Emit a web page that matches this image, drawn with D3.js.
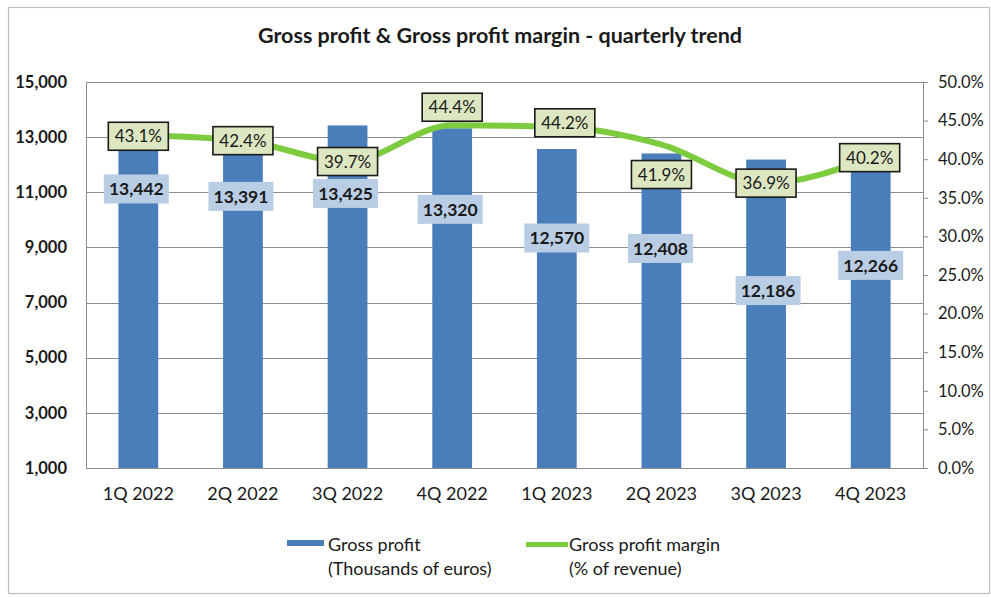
<!DOCTYPE html>
<html><head><meta charset="utf-8">
<script src="https://cdn.jsdelivr.net/npm/d3@7"></script>
<style>
body{margin:0;background:#fff;}
svg{display:block;font-family:Lato,"Open Sans",sans-serif;}
</style>
</head><body><svg id="chart" width="991" height="597"></svg>
<script>
// ---- data ----
const quarters = ["1Q 2022","2Q 2022","3Q 2022","4Q 2022","1Q 2023","2Q 2023","3Q 2023","4Q 2023"];
const grossProfit = [13442,13391,13425,13320,12570,12408,12186,12266];
const grossMargin = [43.1,42.4,39.7,44.4,44.2,41.9,36.9,40.2];
const leftTicks = [1000,3000,5000,7000,9000,11000,13000,15000];
const rightTicks = [0,5,10,15,20,25,30,35,40,45,50];
const titleText = "Gross profit & Gross profit margin - quarterly trend";
const legendProfit = ["Gross profit","(Thousands of euros)"];
const legendMargin = ["Gross profit margin","(% of revenue)"];

// ---- label placement (manual, pixel offsets as in the original) ----
const marginLabelDx = [0,0,0,0,8,0,0,-1];
const marginLabelDy = [1,0,0,-18,-4,30,0,0];
const profitLabelDx = [-2,-2,-2,-2,0,-1,2,0];
const profitLabelDy = [64,70,68,81,89,95,131,108];

const svg = d3.select("#chart");
const P = {left:86, right:923, top:82, bottom:468};
const FONT = "Lato,'Open Sans',sans-serif";

const x = d3.scaleBand().domain(quarters).range([P.left,P.right]).paddingInner(0.62).paddingOuter(0.31);
const yL = d3.scaleLinear().domain([1000,15000]).range([P.bottom,P.top]);
const yR = d3.scaleLinear().domain([0,50]).range([P.bottom,P.top]);
const cx = q => x(q) + x.bandwidth()/2;

// outer frame
svg.append("rect").attr("x",8.5).attr("y",7.5).attr("width",981).attr("height",586)
  .attr("fill","#fff").attr("stroke","#bfbfbf").attr("stroke-width",1.2);

// title
svg.append("text").attr("x",500).attr("y",43).attr("text-anchor","middle")
  .attr("font-size",21.5).attr("font-weight","bold").attr("fill","#1a1a1a").text(titleText);

// gridlines
svg.append("g").selectAll("line").data(leftTicks).join("line")
  .attr("x1",P.left).attr("x2",P.right)
  .attr("y1",d=>Math.round(yL(d))+0.5).attr("y2",d=>Math.round(yL(d))+0.5)
  .attr("stroke","#8c8c8c").attr("stroke-width",1);
svg.append("line").attr("x1",P.left+0.5).attr("x2",P.left+0.5).attr("y1",P.top).attr("y2",P.bottom)
  .attr("stroke","#8c8c8c");

// left axis
const gL = svg.append("g").attr("transform",`translate(${P.left},0)`)
  .call(d3.axisLeft(yL).tickValues(leftTicks).tickSize(0).tickPadding(19).tickFormat(d3.format(",")));
gL.select(".domain").remove();
gL.selectAll("text").attr("font-size",16.5).attr("font-weight","bold").attr("fill","#1a1a1a")
  .attr("font-family",FONT);

// right axis
const gR = svg.append("g").attr("transform",`translate(${P.right},0)`)
  .call(d3.axisRight(yR).tickValues(rightTicks).tickSize(5).tickSizeOuter(0).tickPadding(10)
    .tickFormat(d=>d.toFixed(1)+"%"));
gR.select(".domain").attr("stroke","#8c8c8c");
gR.selectAll(".tick line").attr("stroke","#8c8c8c");
gR.selectAll("text").attr("font-size",16.5).attr("fill","#1a1a1a").attr("font-family",FONT);

// bottom axis
const gB = svg.append("g").attr("transform",`translate(0,${P.bottom})`)
  .call(d3.axisBottom(x).tickSize(0).tickPadding(19));
gB.select(".domain").remove();
gB.selectAll("text").attr("font-size",18).attr("fill","#1a1a1a").attr("font-family",FONT);

// bars
svg.append("g").selectAll("rect").data(quarters).join("rect")
  .attr("x",d=>x(d)).attr("width",x.bandwidth())
  .attr("y",(d,i)=>yL(grossProfit[i])).attr("height",(d,i)=>yL(1000)-yL(grossProfit[i]))
  .attr("fill","#4a7ebb");

// profit labels
const fmt = d3.format(",");
const pl = svg.append("g").selectAll("g").data(quarters).join("g")
  .attr("transform",(d,i)=>`translate(${cx(d)+profitLabelDx[i]},${yL(grossProfit[i])+profitLabelDy[i]})`);
pl.append("rect").attr("x",-32.5).attr("y",-14.5).attr("width",65).attr("height",29).attr("fill","#b9cde5");
pl.append("text").attr("text-anchor","middle").attr("dy","0.36em").attr("font-size",17.5)
  .attr("font-weight","bold").attr("fill","#1a1a1a").text((d,i)=>fmt(grossProfit[i]));

// margin line
const line = d3.line().x(d=>cx(d)).y((d,i)=>yR(grossMargin[i])).curve(d3.curveMonotoneX);
svg.append("path").datum(quarters).attr("d",line).attr("fill","none")
  .attr("stroke","#7dcb3f").attr("stroke-width",6).attr("stroke-linejoin","round");

// margin labels
const ml = svg.append("g").selectAll("g").data(quarters).join("g")
  .attr("transform",(d,i)=>`translate(${cx(d)+marginLabelDx[i]},${yR(grossMargin[i])+marginLabelDy[i]})`);
ml.append("rect").attr("x",-30).attr("y",-14).attr("width",60).attr("height",28)
  .attr("fill","#dce6c1").attr("stroke","#1a1a1a").attr("stroke-width",1.6);
ml.append("text").attr("text-anchor","middle").attr("dy","0.36em").attr("font-size",17)
  .attr("fill","#1a1a1a").text((d,i)=>grossMargin[i].toFixed(1)+"%");

// legend
const lg = svg.append("g").attr("font-size",18).attr("fill","#1a1a1a");
lg.append("rect").attr("x",287).attr("y",540).attr("width",37).attr("height",6).attr("fill","#4a7ebb");
lg.append("text").attr("x",328).attr("y",551).text(legendProfit[0]);
lg.append("text").attr("x",328).attr("y",575).text(legendProfit[1]);
lg.append("line").attr("x1",526).attr("x2",568).attr("y1",544.5).attr("y2",544.5)
  .attr("stroke","#7dcb3f").attr("stroke-width",5);
lg.append("text").attr("x",569).attr("y",551).text(legendMargin[0]);
lg.append("text").attr("x",569).attr("y",575).text(legendMargin[1]);
</script>
</body></html>
